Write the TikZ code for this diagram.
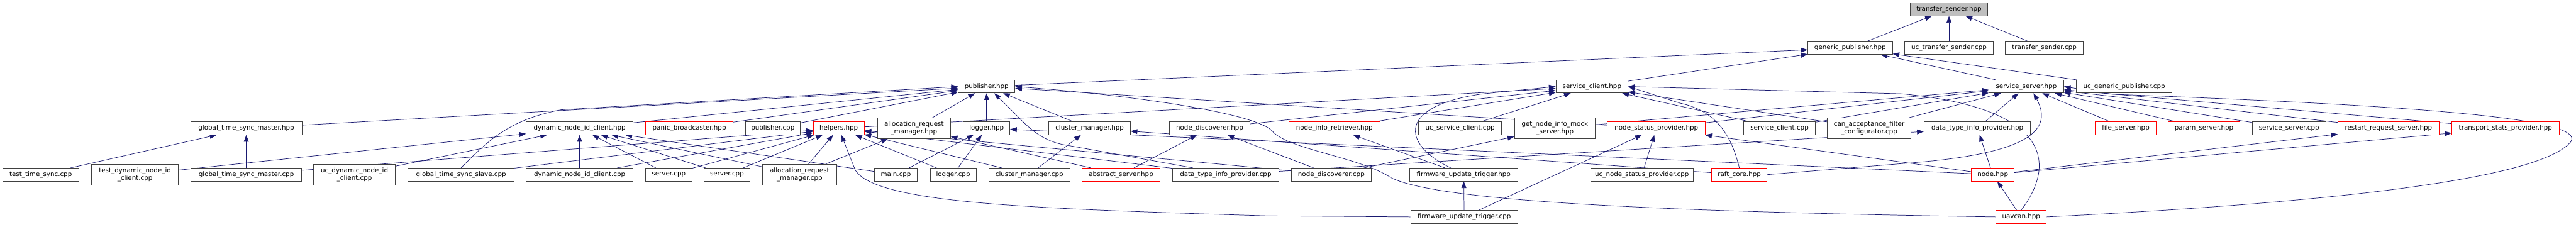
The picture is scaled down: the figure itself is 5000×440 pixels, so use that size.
\documentclass[tikz,border=0pt]{standalone}
\usepackage{fontspec}
\setmainfont{DejaVu Sans}
\usetikzlibrary{arrows.meta,calc,backgrounds}
\definecolor{edgeblue}{RGB}{25,25,112}
\definecolor{boxline}{RGB}{64,64,64}
\definecolor{rootfill}{RGB}{191,191,191}

\begin{document}
\begin{tikzpicture}[x=1pt,y=-1pt,
  file/.style={draw=boxline, fill=white, line width=1.1pt, inner sep=0pt,
    minimum height=25pt, align=center, font=\fontsize{12.6}{15}\selectfont},
  twoline/.style={minimum height=40pt},
  trunc/.style={draw=red},
  root/.style={fill=rootfill},
  dep/.style={edgeblue, line width=0.9pt, -{Triangle[length=13pt,width=9.5pt]}}
]
\useasboundingbox (0,0) rectangle (5000,440);

\node[file, root, minimum width=151pt] (tsh) at (3783,18) {transfer\_sender.hpp};

\node[file, minimum width=164pt] (gph) at (3591,93) {generic\_publisher.hpp};
\node[file, minimum width=172pt] (ucts) at (3783,93) {uc\_transfer\_sender.cpp};
\node[file, minimum width=151pt] (tsc) at (3968,93) {transfer\_sender.cpp};

\node[file, minimum width=110pt] (pubh) at (1915,168) {publisher.hpp};
\node[file, minimum width=140pt] (sch) at (3090,168) {service\_client.hpp};
\node[file, minimum width=145pt] (ssh) at (3933,168) {service\_server.hpp};
\node[file, minimum width=186pt] (ucgp) at (4123,168) {uc\_generic\_publisher.cpp};

\node[file, minimum width=216pt] (gtsmh) at (478,249) {global\_time\_sync\_master.hpp};
\node[file, minimum width=207pt] (dnch) at (1125,249) {dynamic\_node\_id\_client.hpp};
\node[file, trunc, minimum width=169pt] (pbh) at (1338,249) {panic\_broadcaster.hpp};
\node[file, minimum width=107pt] (pubc) at (1500,249) {publisher.cpp};
\node[file, trunc, minimum width=99pt] (helh) at (1628,249) {helpers.hpp};
\node[file, twoline, minimum width=142pt] (armh) at (1774,249) {allocation\_request\\\_manager.hpp};
\node[file, minimum width=90pt] (logh) at (1915,249) {logger.hpp};
\node[file, minimum width=158pt] (cmh) at (2115,249) {cluster\_manager.hpp};
\node[file, minimum width=156pt] (ndh) at (2348,249) {node\_discoverer.hpp};
\node[file, trunc, minimum width=177pt] (nirh) at (2590,249) {node\_info\_retriever.hpp};
\node[file, minimum width=161pt] (ucsc) at (2834,249) {uc\_service\_client.cpp};
\node[file, twoline, minimum width=157pt] (gnims) at (3018,249) {get\_node\_info\_mock\\\_server.hpp};
\node[file, trunc, minimum width=190pt] (nsph) at (3215,249) {node\_status\_provider.hpp};
\node[file, minimum width=139pt] (scc) at (3454,249) {service\_client.cpp};
\node[file, twoline, minimum width=163pt] (cafc) at (3628,249) {can\_acceptance\_filter\\\_configurator.cpp};
\node[file, minimum width=207pt] (dtiph) at (3838,249) {data\_type\_info\_provider.hpp};
\node[file, trunc, minimum width=118pt] (fsh) at (4126,249) {file\_server.hpp};
\node[file, trunc, minimum width=139pt] (psh) at (4278,249) {param\_server.hpp};
\node[file, minimum width=143pt] (ssc) at (4443,249) {service\_server.cpp};
\node[file, trunc, minimum width=196pt] (rrsh) at (4636,249) {restart\_request\_server.hpp};
\node[file, trunc, minimum width=208pt] (tsph) at (4863,249) {transport\_stats\_provider.hpp};

\node[file, minimum width=148pt] (tts) at (79,339) {test\_time\_sync.cpp};
\node[file, twoline, minimum width=168pt] (tdnc) at (262,339) {test\_dynamic\_node\_id\\\_client.cpp};
\node[file, minimum width=214pt] (gtsmc) at (478,339) {global\_time\_sync\_master.cpp};
\node[file, twoline, minimum width=159pt] (ucdnc) at (688,339) {uc\_dynamic\_node\_id\\\_client.cpp};
\node[file, minimum width=206pt] (gtssc) at (895,339) {global\_time\_sync\_slave.cpp};
\node[file, minimum width=207pt] (dncc) at (1125,339) {dynamic\_node\_id\_client.cpp};
\node[file, minimum width=90pt] (srva) at (1298,339) {server.cpp};
\node[file, minimum width=89pt] (srvb) at (1411,339) {server.cpp};
\node[file, twoline, minimum width=143pt] (armc) at (1552,339) {allocation\_request\\\_manager.cpp};
\node[file, minimum width=83pt] (mainc) at (1739,339) {main.cpp};
\node[file, minimum width=89pt] (logc) at (1850,339) {logger.cpp};
\node[file, minimum width=158pt] (cmc) at (1998,339) {cluster\_manager.cpp};
\node[file, trunc, minimum width=151pt] (ash) at (2176,339) {abstract\_server.hpp};
\node[file, minimum width=206pt] (dtipc) at (2379,339) {data\_type\_info\_provider.cpp};
\node[file, minimum width=155pt] (ndc) at (2584,339) {node\_discoverer.cpp};
\node[file, minimum width=209pt] (futh) at (2841,339) {firmware\_update\_trigger.hpp};
\node[file, minimum width=199pt] (ucnsp) at (3187,339) {uc\_node\_status\_provider.cpp};
\node[file, trunc, minimum width=107pt] (rch) at (3376,339) {raft\_core.hpp};
\node[file, trunc, minimum width=83pt] (nodeh) at (3868,339) {node.hpp};

\node[file, minimum width=208pt] (futc) at (2842,421) {firmware\_update\_trigger.cpp};
\node[file, trunc, minimum width=98pt] (uavh) at (3923,421) {uavcan.hpp};

\begin{scope}[on background layer]
\draw[dep] (gph) -- (tsh);
\draw[dep] (ucts) -- (tsh);
\draw[dep] (tsc) -- (tsh);

\draw[dep] (pubh) -- (gph);
\draw[dep] (sch) -- (gph);
\draw[dep] (ssh) -- (gph);
\draw[dep] (ucgp) -- (gph);

\draw[dep] (gtsmh) -- (pubh);
\draw[dep] (gtssc.north) .. controls (950,270) and (990,232) .. (1090,213) -- (pubh.west);
\draw[dep] (dnch) -- (pubh);
\draw[dep] (pbh) -- (pubh);
\draw[dep] (pubc) -- (pubh);
\draw[dep] (armh) -- (pubh);
\draw[dep] (logh) -- (pubh);
\draw[dep] (cmh) -- (pubh);
\draw[dep] ([xshift=40pt]dtipc.north west) -- (2060,280) .. controls (2010,268) and (1990,240) .. ([xshift=15pt]pubh.south);
\draw[dep] (nsph) -- (pubh);
\draw[dep] (uavh.west) .. controls (3300,412) and (2800,395) .. (2700,345) .. controls (2640,305) and (2500,290) .. (2470,255) .. controls (2440,220) and (2200,185) .. (pubh.east);

\draw[dep] (helh) -- (sch);
\draw[dep] (ndh) -- (sch);
\draw[dep] (nirh) -- (sch);
\draw[dep] ([xshift=-25pt]futh.north) .. controls (2720,280) and (2710,205) .. (2880,182) -- (sch.west);
\draw[dep] (ucsc) -- (sch);
\draw[dep] (scc) -- (sch);
\draw[dep] (cafc) -- (sch);
\draw[dep] (rch.north) .. controls (3360,260) and (3330,215) .. (3260,200) -- (sch.east);
\draw[dep] (uavh.north) .. controls (3990,320) and (3985,210) .. (3690,182) -- (sch.east);

\draw[dep] (gnims) -- (ssh);
\draw[dep] (scc) -- (ssh);
\draw[dep] (nsph) -- (ssh);
\draw[dep] (cafc) -- (ssh);
\draw[dep] (dtiph) -- (ssh);
\draw[dep] (rch.east) -- (3700,317) .. controls (3920,300) and (3990,260) .. ([xshift=14pt]ssh.south);
\draw[dep] (fsh) -- (ssh);
\draw[dep] (psh) -- (ssh);
\draw[dep] (ssc) -- (ssh);
\draw[dep] (rrsh) -- (ssh);
\draw[dep] (tsph) -- (ssh);
\draw[dep] (uavh.east) .. controls (4500,395) and (4930,350) .. (4990,275) .. controls (5020,230) and (4700,205) .. (4100,183) -- (ssh.east);

\draw[dep] (tts) -- (gtsmh);
\draw[dep] (gtsmc) -- (gtsmh);

\draw[dep] (tdnc) -- (dnch);
\draw[dep] (ucdnc) -- (dnch);
\draw[dep] (dncc) -- (dnch);
\draw[dep] (srva) -- (dnch);
\draw[dep] (srvb) -- (dnch);
\draw[dep] (armc) -- (dnch);
\draw[dep] (mainc) -- (dnch);

\draw[dep] (gtsmc) -- (helh);
\draw[dep] (gtssc) -- (helh);
\draw[dep] (dncc) -- (helh);
\draw[dep] (srva) -- (helh);
\draw[dep] (srvb) -- (helh);
\draw[dep] (armc) -- (helh);
\draw[dep] (logc) -- (helh);
\draw[dep] (cmc) -- (helh);
\draw[dep] (dtipc) -- (helh);
\draw[dep] (ndc) -- (helh);
\draw[dep] (futc.west) -- (2460,419) .. controls (2000,405) and (1700,395) .. (1660,330) -- ([xshift=5pt]helh.south);

\draw[dep] (armc) -- (armh);
\draw[dep] (ash) -- (armh);
\draw[dep] (mainc) -- (logh);
\draw[dep] (logc) -- (logh);
\draw[dep] (nodeh) -- (logh);
\draw[dep] (cmc) -- (cmh);
\draw[dep] (rch) -- (cmh);
\draw[dep] (ash) -- (ndh);
\draw[dep] (ndc) -- (ndh);
\draw[dep] (futh) -- (nirh);
\draw[dep] (ndc) -- (gnims);
\draw[dep] (futc) -- (nsph);
\draw[dep] (ucnsp) -- (nsph);
\draw[dep] (nodeh) -- (nsph);
\draw[dep] (dtipc) -- (dtiph);
\draw[dep] (nodeh) -- (dtiph);
\draw[dep] (futc) -- (futh);
\draw[dep] (nodeh) -- (rrsh);
\draw[dep] (nodeh) -- (tsph);
\draw[dep] (uavh) -- (nodeh);
\end{scope}
\end{tikzpicture}
\end{document}
